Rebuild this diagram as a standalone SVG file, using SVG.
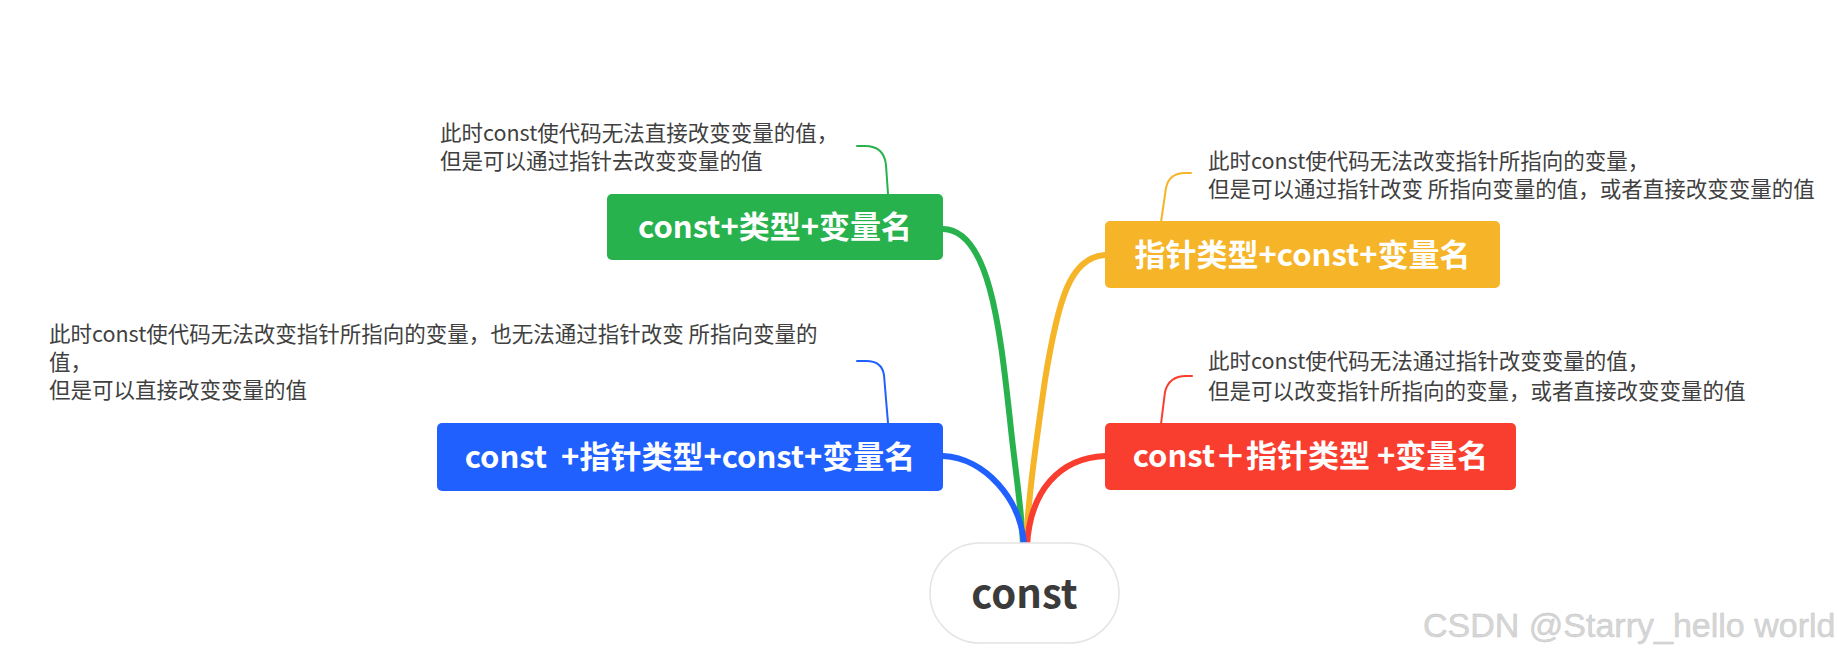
<svg xmlns="http://www.w3.org/2000/svg" width="1837" height="660" viewBox="0 0 1837 660">
<style>
.box-t{font-family:"Noto Sans CJK SC","Microsoft YaHei",sans-serif;font-weight:bold;font-size:31px;fill:#ffffff;text-anchor:middle;white-space:pre}
.note{font-family:"Noto Sans CJK SC","Microsoft YaHei",sans-serif;font-size:21.5px;fill:#404040;white-space:pre}
.main{fill:none;stroke-width:6;stroke-linecap:round}
.thin{fill:none;stroke-width:2;stroke-linecap:round}
</style>
<rect width="1837" height="660" fill="#ffffff"/>
<g id="connectors">
<path class="main" stroke="#28B24D" d="M943,229 C990,230 1000,330 1010,420 C1015,470 1022,510 1023,546"/>
<path class="main" stroke="#F6B428" d="M1105,255 C1070,257 1058,300 1045,380 C1035,450 1028,500 1026,546"/>
<path class="main" stroke="#F93E2F" d="M1105,456 C1060,458 1030,490 1027,546"/>
<path class="main" stroke="#2060FF" d="M943,456 C985,458 1022,500 1024,546"/>
<path class="thin" stroke="#28B24D" d="M888,194 L886,165 Q884,146 865,146 L857,146"/>
<path class="thin" stroke="#F6B428" d="M1161,222 L1166,188 Q1169,173 1185,173 L1191,173"/>
<path class="thin" stroke="#F93E2F" d="M1161,424 L1165,392 Q1169,376 1186,376 L1192,376"/>
<path class="thin" stroke="#2060FF" d="M888,423 L884,375 Q882,361 866,361 L857,361"/>
</g>
<g id="root">
<rect x="930" y="543" width="189" height="100" rx="50" fill="#ffffff" stroke="#e4e4e4" stroke-width="1.5"/>
<text x="1024.5" y="608" font-family="Noto Sans CJK SC, Microsoft YaHei, sans-serif" font-weight="bold" font-size="40" fill="#3b3b3b" text-anchor="middle">const</text>
</g>
<g id="node-green">
<rect x="607" y="194" width="336" height="66" rx="5" fill="#28B24D"/>
<text class="box-t" x="775" y="238">const+类型+变量名</text>
</g>
<g id="note-green">
<text class="note" x="440" y="141">此时const使代码无法直接改变变量的值，</text>
<text class="note" x="440" y="169">但是可以通过指针去改变变量的值</text>
</g>
<g id="node-yellow">
<rect x="1105" y="221" width="395" height="67" rx="5" fill="#F6B428"/>
<text class="box-t" x="1302.5" y="266">指针类型+const+变量名</text>
</g>
<g id="note-yellow">
<text class="note" x="1208" y="169">此时const使代码无法改变指针所指向的变量，</text>
<text class="note" x="1208" y="197">但是可以通过指针改变 所指向变量的值，或者直接改变变量的值</text>
</g>
<g id="node-red">
<rect x="1105" y="423" width="411" height="67" rx="5" fill="#F93E2F"/>
<text class="box-t" x="1310.5" y="467">const＋指针类型 +变量名</text>
</g>
<g id="note-red">
<text class="note" x="1208" y="369">此时const使代码无法通过指针改变变量的值，</text>
<text class="note" x="1208" y="399">但是可以改变指针所指向的变量，或者直接改变变量的值</text>
</g>
<g id="node-blue">
<rect x="437" y="423" width="506" height="68" rx="5" fill="#2060FF"/>
<text class="box-t" x="690" y="468">const  +指针类型+const+变量名</text>
</g>
<g id="note-blue">
<text class="note" x="49" y="342">此时const使代码无法改变指针所指向的变量，也无法通过指针改变 所指向变量的</text>
<text class="note" x="49" y="370">值，</text>
<text class="note" x="49" y="398">但是可以直接改变变量的值</text>
</g>
<text x="1423" y="637" font-family="Liberation Sans, Arial, sans-serif" font-size="34" fill="#d6d6d6" stroke="#c4c4c4" stroke-width="0.4">CSDN @Starry_hello world</text>
</svg>
